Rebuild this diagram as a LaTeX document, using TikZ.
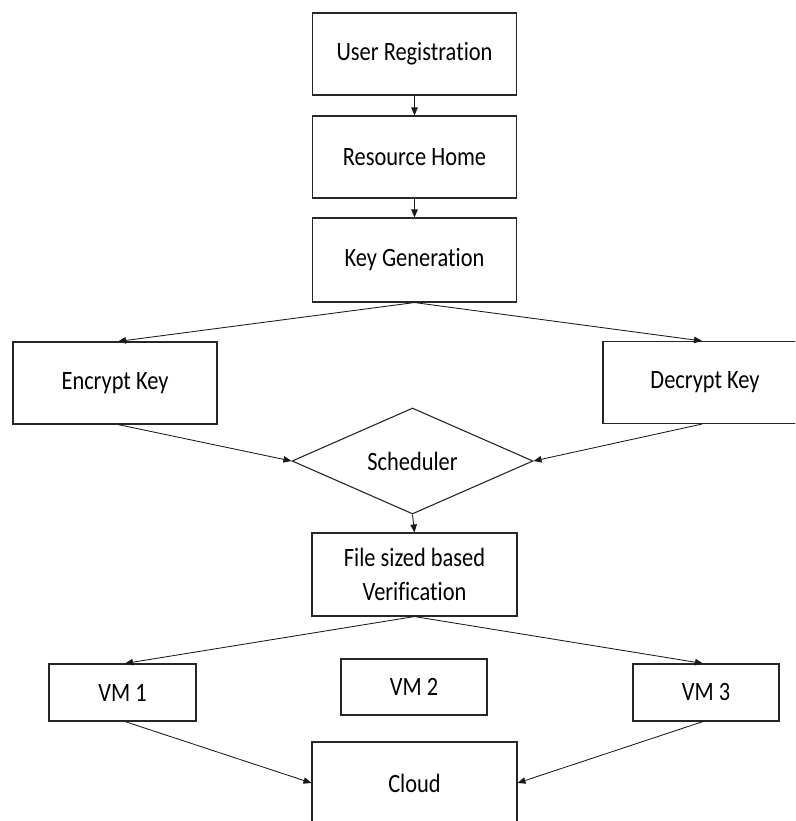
\documentclass[tikz,border=0pt]{standalone}
\usepackage{fontspec}
\usepackage{graphicx}
\setmainfont{Carlito}[RawFeature={-liga}]
\usetikzlibrary{shapes.geometric,arrows.meta}
\newcommand{\vs}[1]{\scalebox{1}[1.18]{#1}}
\tikzset{
  box/.style={draw=black!85, line width=1.1pt, rectangle, inner sep=0pt,
    minimum width=#1, font=\fontsize{22.4}{34}\selectfont, align=center},
  box/.default=204pt,
  dia/.style={draw=black!85, line width=1.1pt, diamond, inner sep=0pt,
    minimum width=241pt, minimum height=106pt, aspect=2.27,
    font=\fontsize{22.4}{34}\selectfont},
  conn/.style={draw=black!90, line width=0.85pt, -{Triangle[length=8pt,width=6.5pt]}}
}
\begin{document}
\begin{tikzpicture}[x=1pt,y=-1pt]
\useasboundingbox (0,0) rectangle (795,821);
\clip (0,0) rectangle (795,821);
\node[box, minimum height=82pt] (ur) at (414.5,54) {\vs{User Registration}};
\node[box, minimum height=82pt] (rh) at (414.5,157) {\vs{Resource Home}};
\node[box, minimum height=84pt] (kg) at (414.5,260) {\vs{Key Generation}};
\node[box, minimum height=82pt] (ek) at (115,383) {\vs{Encrypt Key}};
\node[box, minimum height=82pt] (dk) at (705,382.5) {\vs{Decrypt Key}};
\node[dia] (sch) at (412.5,461) {\vs{Scheduler}};
\node[box=205pt, minimum height=83pt] (fv) at (414.5,574.5) {\vs{File sized based}\\\vs{Verification}};
\node[box=147pt, minimum height=57pt] (vm1) at (122.5,692.5) {\vs{VM 1}};
\node[box=146pt, minimum height=56pt] (vm2) at (414,687) {\vs{VM 2}};
\node[box=146pt, minimum height=57pt] (vm3) at (706,692.5) {\vs{VM 3}};
\node[box=205pt, minimum height=82pt] (cl) at (414.5,783) {\vs{Cloud}};
\draw[conn] (ur.south) -- (rh.north);
\draw[conn] (rh.south) -- (kg.north);
\draw[conn] (kg.south) -- ([xshift=3pt]ek.north);
\draw[conn] (kg.south) -- ([xshift=-3pt]dk.north);
\draw[conn] ([xshift=3pt]ek.south) -- (sch.west);
\draw[conn] ([xshift=-3pt]dk.south) -- (sch.east);
\draw[conn] (sch.south) -- (fv.north);
\draw[conn] (fv.south) -- ([xshift=2.5pt]vm1.north);
\draw[conn] (fv.south) -- ([xshift=-3pt]vm3.north);
\draw[conn] ([xshift=2.5pt]vm1.south) -- (cl.west);
\draw[conn] ([xshift=-3pt]vm3.south) -- (cl.east);
\end{tikzpicture}
\end{document}
